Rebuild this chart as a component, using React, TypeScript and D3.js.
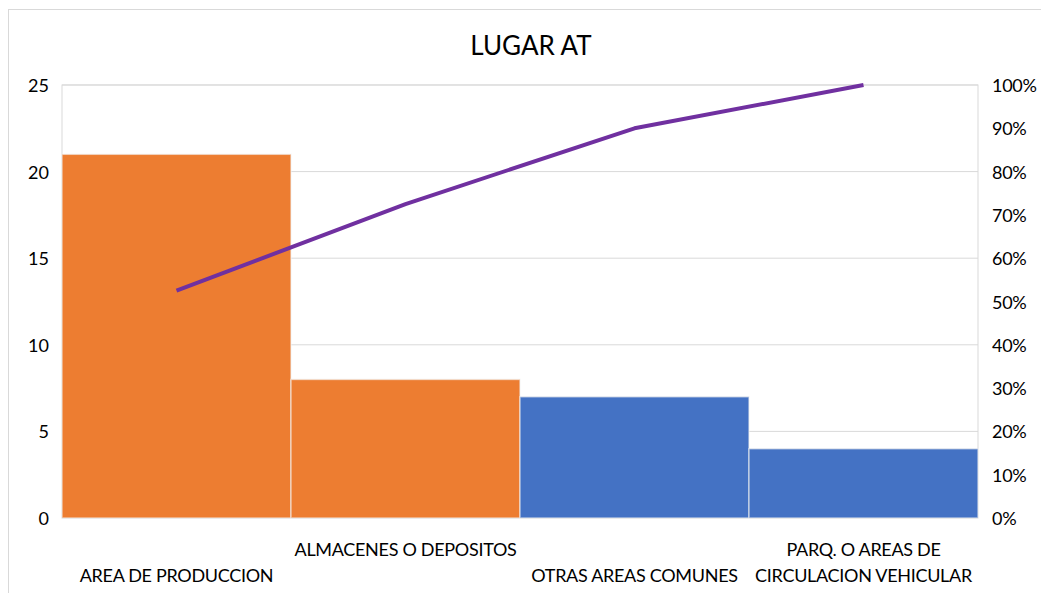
import React from "react";
import * as d3 from "d3";

const categories = [
  ["AREA DE PRODUCCION"],
  ["ALMACENES O DEPOSITOS"],
  ["OTRAS AREAS COMUNES"],
  ["PARQ. O AREAS DE", "CIRCULACION VEHICULAR"],
];
const values = [21, 8, 7, 4];
const barColors = ["#ED7D31", "#ED7D31", "#4472C4", "#4472C4"];
const cumulativePct = [0.525, 0.725, 0.9, 1.0];
const leftTicks = [0, 5, 10, 15, 20, 25];
const rightTicks = [0, 0.1, 0.2, 0.3, 0.4, 0.5, 0.6, 0.7, 0.8, 0.9, 1.0];
const labelRow = [1, 0, 1, 0];

const W = 1041;
const H = 593;
const font = "'Lato', 'Open Sans', sans-serif";

export default function App() {
  const left = 62, right = 978, top = 85, bottom = 518;
  const x = d3.scaleBand<number>().domain(d3.range(values.length)).range([left, right]).padding(0);
  const y = d3.scaleLinear().domain([0, 25]).range([bottom, top]);
  const y2 = d3.scaleLinear().domain([0, 1]).range([bottom, top]);
  const line = d3
    .line<number>()
    .x((_, i) => (x(i) as number) + x.bandwidth() / 2)
    .y((d) => y2(d));

  return (
    <svg width={W} height={H} style={{ position: "absolute", left: 0, top: 0, background: "#fff" }}>
      <rect x={8.5} y={9.5} width={W} height={H} fill="#fff" stroke="#d9d9d9" />
      <text x={531} y={55} textAnchor="middle" fontFamily={font} fontSize={26} fill="#000">
        LUGAR AT
      </text>
      <rect x={left} y={top} width={right - left} height={bottom - top} fill="none" stroke="#d9d9d9" />
      {leftTicks.map((t) => (
        <line key={t} x1={left} x2={right} y1={y(t)} y2={y(t)} stroke="#d9d9d9" />
      ))}
      {values.map((v, i) => (
        <rect
          key={i}
          x={x(i) as number}
          y={y(v)}
          width={x.bandwidth()}
          height={bottom - y(v)}
          fill={barColors[i]}
          stroke="#f2f2f2"
          strokeOpacity={0.6}
          strokeWidth={1.5}
        />
      ))}
      <path d={line(cumulativePct) || ""} fill="none" stroke="#7030A0" strokeWidth={4} strokeLinejoin="round" />
      {leftTicks.map((t) => (
        <text key={t} x={49} y={y(t) + 7} textAnchor="end" fontFamily={font} fontSize={18} fill="#000">
          {t}
        </text>
      ))}
      {rightTicks.map((t) => (
        <text key={t} x={992} y={y2(t) + 7} textAnchor="start" fontFamily={font} fontSize={18} fill="#000" letterSpacing={-0.3}>
          {d3.format(".0%")(t)}
        </text>
      ))}
      {categories.map((lines, i) => {
        const cx = (x(i) as number) + x.bandwidth() / 2;
        const startRow = lines.length > 1 ? 0 : labelRow[i];
        return (
          <text key={i} textAnchor="middle" fontFamily={font} fontSize={18} fill="#000" letterSpacing={-0.3}>
            {lines.map((l, j) => (
              <tspan key={j} x={cx} y={556 + (startRow + j) * 26}>
                {l}
              </tspan>
            ))}
          </text>
        );
      })}
    </svg>
  );
}
